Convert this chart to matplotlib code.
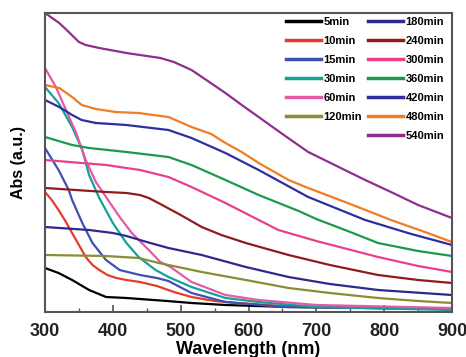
import numpy as np
import matplotlib
matplotlib.use("Agg")
import matplotlib.pyplot as plt
from matplotlib.lines import Line2D

# UV-vis spectra at different reaction times (arbitrary absorbance units)
wl_5 = [300, 320, 340, 365, 390, 420, 480, 516, 566, 659, 900]
abs_5 = [0.44, 0.39, 0.32, 0.22, 0.15, 0.14, 0.11, 0.09, 0.07, 0.05, 0.03]

wl_10 = [300, 310, 320, 330, 340, 350, 360, 370, 380, 392, 405, 420, 440,
         465, 490, 516, 550, 585, 650, 700, 900]
abs_10 = [1.20, 1.12, 1.02, 0.91, 0.79, 0.67, 0.55, 0.47, 0.42, 0.37, 0.34,
          0.32, 0.30, 0.26, 0.20, 0.15, 0.11, 0.09, 0.06, 0.05, 0.03]

wl_15 = [300, 320, 335, 340, 355, 370, 390, 410, 440, 465, 482, 516, 566,
         650, 900]
abs_15 = [1.64, 1.42, 1.22, 1.12, 0.89, 0.69, 0.52, 0.42, 0.37, 0.34, 0.31,
          0.19, 0.10, 0.05, 0.03]

wl_30 = [300, 320, 340, 355, 365, 380, 400, 420, 438, 463, 482, 516, 566,
         615, 700, 900]
abs_30 = [2.25, 2.09, 1.85, 1.62, 1.37, 1.14, 0.89, 0.69, 0.55, 0.42, 0.35,
          0.25, 0.14, 0.10, 0.05, 0.02]

wl_60 = [300, 316, 331, 346, 360, 375, 390, 410, 428, 453, 470, 485, 516,
         566, 615, 700, 900]
abs_60 = [2.44, 2.25, 2.02, 1.79, 1.52, 1.30, 1.15, 0.95, 0.79, 0.62, 0.50,
          0.45, 0.30, 0.17, 0.12, 0.07, 0.04]

wl_120 = [300, 390, 438, 468, 531, 596, 659, 720, 791, 850, 900]
abs_120 = [0.57, 0.56, 0.54, 0.49, 0.40, 0.32, 0.24, 0.19, 0.14, 0.11, 0.09]

wl_180 = [300, 365, 400, 420, 450, 482, 531, 596, 659, 720, 791, 900]
abs_180 = [0.85, 0.82, 0.79, 0.76, 0.70, 0.64, 0.57, 0.45, 0.35, 0.28, 0.22,
           0.17]

wl_240 = [300, 390, 420, 440, 453, 470, 500, 531, 560, 596, 659, 720, 791,
          850, 900]
abs_240 = [1.24, 1.20, 1.19, 1.17, 1.14, 1.08, 0.97, 0.85, 0.77, 0.69, 0.57,
           0.47, 0.37, 0.32, 0.29]

wl_300 = [300, 390, 440, 482, 516, 566, 644, 700, 791, 850, 900]
abs_300 = [1.52, 1.47, 1.42, 1.35, 1.25, 1.09, 0.82, 0.71, 0.55, 0.46, 0.40]

wl_360 = [300, 340, 365, 420, 482, 516, 566, 615, 674, 700, 750, 791, 850,
          900]
abs_360 = [1.75, 1.67, 1.64, 1.60, 1.55, 1.47, 1.32, 1.17, 1.01, 0.93, 0.80,
           0.69, 0.61, 0.56]

wl_420 = [300, 321, 340, 354, 375, 420, 482, 516, 566, 615, 688, 772, 840,
          900]
abs_420 = [2.12, 2.05, 1.97, 1.92, 1.89, 1.87, 1.82, 1.74, 1.59, 1.42, 1.15,
           0.92, 0.78, 0.67]

wl_480 = [300, 321, 340, 354, 375, 404, 438, 482, 516, 545, 566, 590, 615,
          659, 688, 750, 810, 860, 900]
abs_480 = [2.27, 2.24, 2.15, 2.07, 2.03, 2.00, 1.99, 1.95, 1.85, 1.78, 1.69,
           1.60, 1.49, 1.32, 1.24, 1.08, 0.92, 0.80, 0.70]

wl_540 = [300, 321, 335, 350, 360, 380, 420, 470, 490, 516, 540, 566, 590,
          615, 650, 688, 730, 772, 810, 850, 900]
abs_540 = [2.99, 2.89, 2.80, 2.70, 2.67, 2.64, 2.59, 2.54, 2.50, 2.42, 2.31,
           2.19, 2.07, 1.95, 1.78, 1.60, 1.46, 1.32, 1.20, 1.07, 0.94]

labels = ["5min", "10min", "15min", "30min", "60min", "120min", "180min",
          "240min", "300min", "360min", "420min", "480min", "540min"]
colors = ["#000000", "#e83a2c", "#3f4fb2", "#14a199", "#e45aa8", "#8c8c34",
          "#2c2a8c", "#8e1c1c", "#e8408e", "#1c9a4c", "#2e2e9e", "#f27c22",
          "#8e2e8e"]
wls = [wl_5, wl_10, wl_15, wl_30, wl_60, wl_120, wl_180, wl_240, wl_300,
       wl_360, wl_420, wl_480, wl_540]
absv = [abs_5, abs_10, abs_15, abs_30, abs_60, abs_120, abs_180, abs_240,
        abs_300, abs_360, abs_420, abs_480, abs_540]

plt.rcParams['font.family'] = ['Liberation Sans', 'DejaVu Sans']

fig = plt.figure(figsize=(4.66, 3.57), dpi=100)
ax = fig.add_axes([45 / 466, 45 / 357, 407 / 466, 299 / 357])

handles = []
for x, y, c, lab in zip(wls, absv, colors, labels):
    h, = ax.plot(x, y, color=c, lw=1.6, label=lab)
    handles.append(h)

ax.set_xlim(300, 900)
ax.set_ylim(0, 2.99)
ax.set_yticks([])
ax.set_xticks([300, 400, 500, 600, 700, 800, 900])
ax.set_xticks(np.arange(350, 900, 100), minor=True)
ax.tick_params(axis='x', which='major', direction='in', length=5, width=1.2,
               labelsize=13, pad=8, colors='#555555', labelcolor='#222222')
ax.tick_params(axis='x', which='minor', direction='in', length=3, width=1.0,
               colors='#555555')
for lab in ax.get_xticklabels():
    lab.set_fontweight('bold')
for s in ax.spines.values():
    s.set_color('#555555')
    s.set_linewidth(1.5)

ax.set_xlabel("Wavelength (nm)", fontsize=13, fontweight='bold', labelpad=0.5)
ax.set_ylabel("Abs (a.u.)", fontsize=11.5, fontweight='bold', labelpad=14)

# blank slot so the first column holds 6 entries
blank = Line2D([], [], color='none')
order = handles[:6] + [blank] + handles[6:]
names = labels[:6] + [""] + labels[6:]
leg = ax.legend(order, names, ncol=2, loc='upper right',
                bbox_to_anchor=(1.0, 1.012), frameon=False,
                prop={'weight': 'bold', 'size': 8}, handlelength=3.2,
                handletextpad=0.2, columnspacing=0.5, labelspacing=0.8,
                borderaxespad=0.3)
for line in leg.get_lines():
    line.set_linewidth(2.5)

fig.savefig("out.png", dpi=100)
